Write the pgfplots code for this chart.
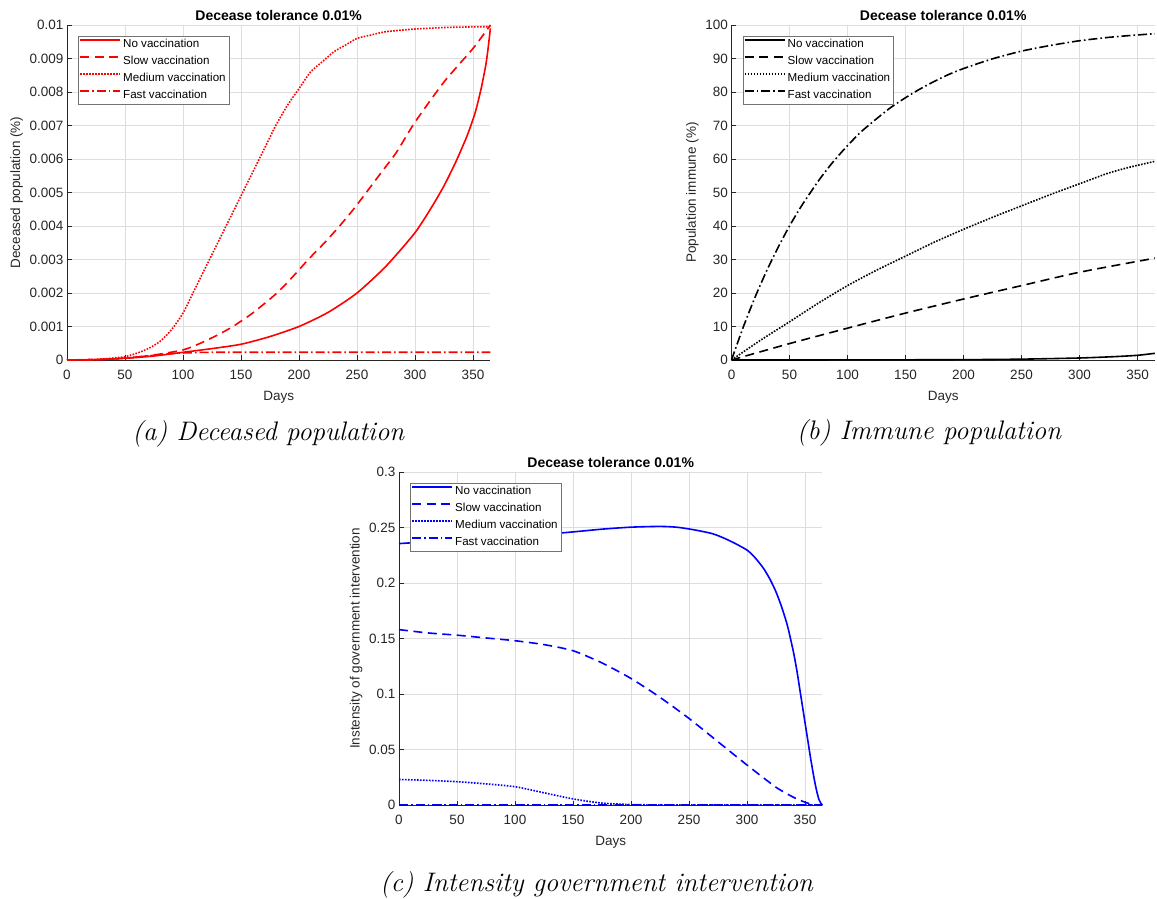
\documentclass[border=0pt]{standalone}
\usepackage{fontspec}
\usepackage{pgfplots}
\pgfplotsset{compat=1.18}
\newfontfamily\arial{Liberation Sans}
\definecolor{axgray}{rgb}{0.15,0.15,0.15}
\definecolor{gridgray}{rgb}{0.87,0.87,0.87}
\definecolor{leggray}{rgb}{0.45,0.45,0.45}
\definecolor{mred}{rgb}{1,0,0}
\definecolor{mblue}{rgb}{0,0,1}
\pgfplotsset{
  mstyle/.style={
    scale only axis, width=423.4pt, height=335pt, anchor=south west,
    axis x line*=bottom, axis y line*=left,
    axis line style={draw=axgray, line width=0.5pt},
    major tick style={draw=axgray, line width=0.5pt}, major tick length=4.5pt, tick align=inside,
    xmajorgrids, ymajorgrids, grid style={draw=gridgray, line width=0.5pt},
    xmin=0, xmax=365, xtick={0,50,...,350},
    scaled y ticks=false, scaled x ticks=false,
    tick label style={font=\arial\fontsize{13.5}{16}\selectfont, text=axgray},
    /pgf/number format/assume math mode=true,
    xticklabel style={yshift=-7pt},
    xlabel={Days}, xlabel near ticks, ylabel near ticks,
    xlabel style={yshift=-4pt},
    label style={font=\arial\fontsize{13.5}{16}\selectfont, text=axgray},
    title={Decease tolerance 0.01\%},
    title style={font=\arial\bfseries\fontsize{14}{16}\selectfont, at={(0.5,1)}, anchor=south, inner sep=4pt, yshift=-6pt},
    legend cell align=left,
    legend image code/.code={\draw[##1, line width=2pt] (0pt,4.5pt) -- (40pt,4.5pt);},
    legend style={at={(0,1)}, anchor=north west, xshift=11pt, yshift=-11pt, draw=leggray, fill=white,
      font=\arial\fontsize{11.6}{13}\selectfont, inner xsep=1pt, inner ysep=0pt, row sep=0pt,
      nodes={inner xsep=2pt, inner ysep=2.5pt, text height=9pt, text depth=3pt}},
    every axis plot/.append style={line width=1.6pt, smooth, tension=0.4},
    clip=false,
  },
  sdash/.style={dash pattern=on 9pt off 5.5pt},
  sdot/.style={dash pattern=on 1.6pt off 1.4pt},
  sdashdot/.style={dash pattern=on 9pt off 3pt on 1.6pt off 3pt},
}
\begin{document}
\begin{tikzpicture}
\useasboundingbox (0,0) rectangle (1157pt,898pt);
% (a)
\begin{axis}[mstyle, at={(67pt,538pt)}, ymin=0, ymax=0.01,
  ytick={0,0.001,0.002,0.003,0.004,0.005,0.006,0.007,0.008,0.009,0.01},
  yticklabels={0,0.001,0.002,0.003,0.004,0.005,0.006,0.007,0.008,0.009,0.01},
  ylabel={Deceased population (\%)}]
\addplot[mred] coordinates {(0,0) (25,0.00001) (50,0.00005) (75,0.00012) (100,0.00023) (125,0.00034) (150,0.00047) (175,0.0007) (200,0.001) (225,0.00142) (250,0.002) (275,0.0028) (300,0.0038) (315,0.0046) (325,0.0052) (335,0.0059) (345,0.0067) (352,0.0074) (357,0.0081) (361,0.0088) (363,0.0093) (365,0.0099)};
\addlegendentry{No vaccination}
\addplot[mred, sdash] coordinates {(0,0) (25,0.00001) (50,0.00005) (75,0.00015) (100,0.0003) (115,0.0005) (130,0.00075) (143,0.001) (160,0.0014) (181,0.002) (195,0.0025) (208,0.003) (222,0.0035) (235,0.004) (247,0.0045) (258,0.005) (271,0.0056) (284,0.0062) (300,0.0071) (325,0.0083) (350,0.0093) (365,0.01)};
\addlegendentry{Slow vaccination}
\addplot[mred, sdot] coordinates {(0,0) (25,0.00002) (40,0.00006) (50,0.0001) (60,0.0002) (70,0.00034) (80,0.00055) (90,0.0009) (100,0.0014) (110,0.0021) (120,0.0028) (130,0.0035) (140,0.0042) (150,0.0049) (160,0.0056) (170,0.0063) (180,0.0070) (190,0.0076) (200,0.0081) (210,0.0086) (220,0.0089) (230,0.0092) (240,0.0094) (250,0.0096) (262,0.0097) (275,0.0098) (300,0.00988) (330,0.00993) (365,0.00995)};
\addlegendentry{Medium vaccination}
\addplot[mred, sdashdot] coordinates {(0,0) (25,0.00001) (50,0.00006) (75,0.00014) (90,0.00019) (100,0.00021) (110,0.00022) (125,0.00023) (200,0.00023) (365,0.00023)};
\addlegendentry{Fast vaccination}
\end{axis}
% (b)
\begin{axis}[mstyle, at={(731.5pt,538pt)}, ymin=0, ymax=100,
  ytick={0,10,...,100},
  ylabel={Population immune (\%)}]
\addplot[black] coordinates {(0,0) (100,0.02) (200,0.1) (250,0.25) (300,0.6) (330,1.0) (350,1.4) (365,2.0)};
\addlegendentry{No vaccination}
\addplot[black, sdash] coordinates {(0,0) (50,4.9) (100,9.5) (150,14) (200,18.2) (250,22.2) (300,26.2) (365,30.4)};
\addlegendentry{Slow vaccination}
\addplot[black, sdot] coordinates {(0,0) (25,5.9) (50,11.4) (75,17) (100,22.2) (125,26.8) (150,31) (175,35.2) (200,39) (225,42.6) (250,46) (275,49.4) (300,52.6) (325,55.8) (345,57.7) (365,59.3)};
\addlegendentry{Medium vaccination}
\addplot[black, sdashdot] coordinates {(0,0) (10,9.7) (20,18.5) (30,26.4) (40,33.5) (50,40) (60,45.8) (75,53.5) (87,58.9) (100,64) (112,68.2) (125,72) (137,75.3) (150,78.3) (162,80.8) (175,83.2) (187,85.2) (200,87) (225,89.9) (250,92.2) (275,93.9) (300,95.3) (325,96.3) (345,96.9) (365,97.4)};
\addlegendentry{Fast vaccination}
\end{axis}
% (c)
\begin{axis}[mstyle, at={(399pt,93pt)}, height=333pt, ymin=0, ymax=0.3,
  ytick={0,0.05,0.1,0.15,0.2,0.25,0.3},
  yticklabels={0,0.05,0.1,0.15,0.2,0.25,0.3},
  ylabel={Instensity of government intervention}]
\addplot[mblue] coordinates {(0,0.2355) (25,0.2372) (50,0.239) (75,0.2408) (100,0.2425) (142,0.2453) (175,0.2485) (200,0.2503) (225,0.251) (240,0.2502) (255,0.2478) (270,0.2445) (280,0.2405) (290,0.2355) (300,0.2297) (305,0.225) (310,0.219) (315,0.212) (320,0.203) (325,0.192) (330,0.178) (335,0.161) (340,0.138) (343,0.121) (346,0.101) (349,0.081) (352,0.061) (355,0.041) (358,0.023) (360,0.013) (362,0.005) (364,0.001) (365,0)};
\addlegendentry{No vaccination}
\addplot[mblue, sdash] coordinates {(0,0.158) (25,0.155) (50,0.153) (75,0.1505) (100,0.148) (125,0.1445) (150,0.139) (175,0.128) (200,0.114) (225,0.097) (250,0.078) (275,0.057) (300,0.036) (325,0.016) (340,0.007) (350,0.0025) (357,0.0003) (360,0) (365,0)};
\addlegendentry{Slow vaccination}
\addplot[mblue, sdot] coordinates {(0,0.023) (25,0.0222) (50,0.021) (75,0.019) (100,0.0165) (125,0.011) (150,0.0055) (175,0.0017) (200,0.0004) (225,0.00005) (250,0) (365,0)};
\addlegendentry{Medium vaccination}
\addplot[mblue, sdashdot] coordinates {(0,0) (365,0)};
\addlegendentry{Fast vaccination}
\end{axis}
% captions
\node[anchor=base, font=\fontsize{26.8}{32}\selectfont\itshape, inner sep=0pt] at (268.3pt,457pt) {(a) Deceased population};
\node[anchor=base, font=\fontsize{26.8}{32}\selectfont\itshape, inner sep=0pt] at (929pt,458pt) {(b) Immune population};
\node[anchor=base, font=\fontsize{26.8}{32}\selectfont\itshape, inner sep=0pt] at (596.5pt,6.3pt) {(c) Intensity government intervention};
\end{tikzpicture}
\end{document}
